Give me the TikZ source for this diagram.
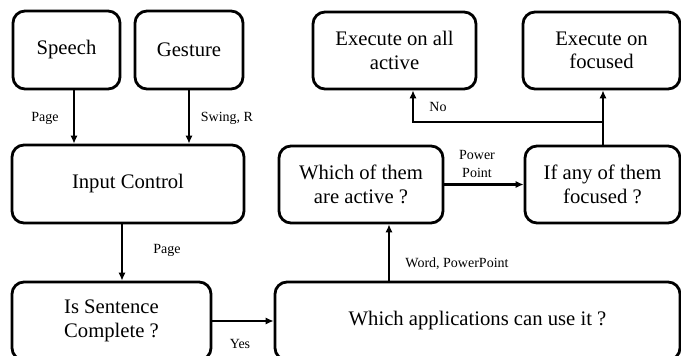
\documentclass[tikz,border=0pt]{standalone}
\usepackage{fontspec}
\setmainfont{Liberation Serif}
\usetikzlibrary{arrows.meta}
\begin{document}
\begin{tikzpicture}[x=0.75pt,y=-0.75pt,
  box/.style={draw,line width=2.1pt,rounded corners=9pt,align=center,inner sep=0pt,
    font=\fontsize{15.5}{17.5}\selectfont},
  arr/.style={line width=1.7pt,-{Latex[length=6pt,width=5.5pt]}},
  lbl/.style={font=\fontsize{10.5}{13}\selectfont,inner sep=0pt,align=center}]
\useasboundingbox (0,0) rectangle (681,356);
\begin{scope}
\clip (0,0) rectangle (681,356);
\node[box,minimum width=80.25pt,minimum height=58.5pt] (speech) at (66.5,50) {Speech};
\node[box,minimum width=81pt,minimum height=58.5pt] (gesture) at (189,50) {Gesture};
\node[box,minimum width=174pt,minimum height=58.5pt] (input) at (128,184) {Input Control};
\node[box,minimum width=149.25pt,minimum height=58.5pt] (sentence) at (111.5,321) {Is Sentence\\Complete ?};
\node[box,minimum width=303.75pt,minimum height=58.5pt] (apps) at (477.5,321) {Which applications can use it ?};
\node[box,minimum width=123pt,minimum height=57.75pt] (active) at (361,184.5) {Which of them\\are active ?};
\node[box,minimum width=116.25pt,minimum height=57.75pt] (ifany) at (602.5,184.5) {If any of them\\focused ?};
\node[box,minimum width=122.25pt,minimum height=57.75pt] (execall) at (394.5,50.5) {Execute on all\\active};
\node[box,minimum width=117.75pt,minimum height=57.75pt] (focused) at (601.5,50.5) {Execute on\\focused};
\end{scope}
\coordinate (s1) at (74,0);
\coordinate (i1) at (122,0);
\coordinate (a1) at (389,0);
\coordinate (f1) at (603,0);
\coordinate (br) at (603,122);
\coordinate (e1) at (413,122);
\draw[arr] (speech.south -| s1) -- (input.north -| s1);
\draw[arr] (gesture.south) -- (gesture.south |- input.north);
\draw[arr] (input.south -| i1) -- (sentence.north -| i1);
\draw[arr] (sentence.east) -- (apps.west |- sentence.east);
\draw[arr] (apps.north -| a1) -- (active.south -| a1);
\draw[arr] (active.east) -- (ifany.west |- active.east);
\draw[arr] (ifany.north -| f1) -- (focused.south -| f1);
\draw[arr] (br) -- (e1) -- (execall.south -| e1);
\node[lbl] (l1) at (45,118) {Page};
\node[lbl] (l2) at (227,118) {Swing, R};
\node[lbl] (l3) at (167,250) {Page};
\node[lbl] (l4) at (240,344) {Yes};
\node[lbl] (l5) at (457,264) {Word, PowerPoint};
\node[lbl] (l6) at (477,164) {Power\\Point};
\node[lbl] (l7) at (438,107) {No};
\end{tikzpicture}
\end{document}
